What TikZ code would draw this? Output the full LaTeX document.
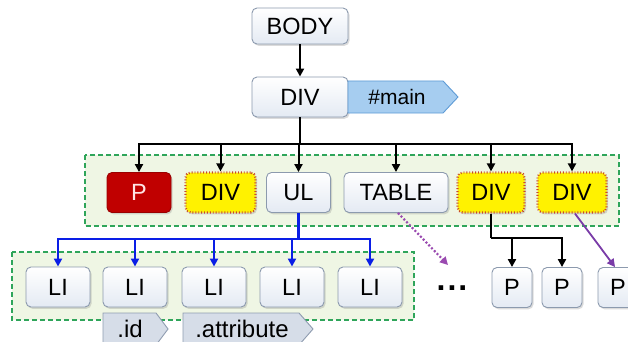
\documentclass[tikz,border=0pt]{standalone}
\usepackage{fontspec}
\setmainfont{Liberation Sans}
\usetikzlibrary{arrows.meta,shadows}

\definecolor{boxedge}{HTML}{8C9AAE}
\definecolor{boxtop}{HTML}{FFFFFF}
\definecolor{boxbot}{HTML}{E4EAF3}
\definecolor{groupedge}{HTML}{2FA55A}
\definecolor{groupfill}{HTML}{EFF6E4}
\definecolor{pred}{HTML}{C00000}
\definecolor{pink}{HTML}{FFE4E4}
\definecolor{dotedge}{HTML}{C8482A}
\definecolor{tagblue}{HTML}{A6CDF0}
\definecolor{tagblueedge}{HTML}{5E9BD6}
\definecolor{taggray}{HTML}{D6DDE8}
\definecolor{taggrayedge}{HTML}{8F9CB0}
\definecolor{linkblue}{HTML}{0A1EE6}
\definecolor{linkpurple}{HTML}{7A3CA8}
\definecolor{dotpurple}{HTML}{9A4AB0}

\newcommand\nodefont{\fontsize{23.5}{26}\selectfont}
\newcommand\tagfont{\fontsize{21}{24}\selectfont}
\newcommand\lowtagfont{\fontsize{24}{27}\selectfont}

\tikzset{
  elem/.style={rounded corners=5pt, line width=0.9pt, minimum height=40pt,
    inner sep=0pt, font=\nodefont, text=black,
    drop shadow={opacity=0.28, shadow xshift=1.5pt, shadow yshift=-1.8pt}},
  plainbox/.style={elem, draw=boxedge, top color=boxtop, bottom color=boxbot},
  redbox/.style={elem, draw=pred!80!black, fill=pred, text=pink},
  yelbox/.style={elem, draw=dotedge, fill=yellow, dotted, line width=2.2pt},
  group/.style={draw=groupedge, fill=groupfill, dashed,
    dash pattern=on 5pt off 3pt, line width=1.6pt},
  tree/.style={-{Triangle[length=8pt,width=8pt]}, line width=2pt},
  link/.style={line width=2pt},
  bluetree/.style={tree, draw=linkblue, line width=2.4pt},
}

\begin{document}
\begin{tikzpicture}[x=1pt,y=-1pt]
\clip (0,0) rectangle (628,342);
\fill[white] (0,0) rectangle (628,342);

% dashed group frames
\path[group] (85,155) rectangle (619,226);
\path[group] (12,252) rectangle (414,320);

% top of the tree
\node[plainbox, minimum width=96pt, minimum height=36pt] (body) at (300,26) {BODY};
\node[plainbox, minimum width=96pt] (div) at (300,97) {DIV};

% #main label
\path[draw=tagblueedge, fill=tagblue, line width=0.9pt]
  (348,81) -- (443,81) -- (458,97) -- (443,113) -- (348,113) -- cycle;
\node[font=\tagfont] (mainlbl) at (397,97) {\#main};

% first level
\node[redbox, minimum width=64pt] (p) at (139,192.5) {P};
\node[yelbox, minimum width=70pt] (ydiv1) at (220.5,192.5) {DIV};
\node[plainbox, minimum width=64pt] (ul) at (298.5,192.5) {UL};
\node[plainbox, minimum width=104pt] (table) at (396,192.5) {TABLE};
\node[yelbox, minimum width=67pt] (ydiv2) at (491,192.5) {DIV};
\node[yelbox, minimum width=69pt] (ydiv3) at (572,192.5) {DIV};

% list items
\node[plainbox, minimum width=64pt] (li1) at (58,287) {LI};
\node[plainbox, minimum width=64pt] (li2) at (135,287) {LI};
\node[plainbox, minimum width=64pt] (li3) at (214,287) {LI};
\node[plainbox, minimum width=64pt] (li4) at (292,287) {LI};
\node[plainbox, minimum width=64pt] (li5) at (370,287) {LI};

% paragraphs
\node[plainbox, minimum width=40pt] (pa) at (512,287.5) {P};
\node[plainbox, minimum width=40pt] (pb) at (562,287.5) {P};
\node[plainbox, minimum width=40pt] (pc) at (618,287.5) {P};

% ellipsis
\node[font=\fontsize{32}{32}\selectfont\bfseries, inner sep=0pt] (more) at (452,288) {.\kern2pt.\kern2pt.};
\coordinate (moretop) at (448,265);

% lower labels
\path[draw=taggrayedge, fill=taggray, line width=0.9pt]
  (103,313) -- (156,313) -- (168,329) -- (156,345) -- (103,345) -- cycle;
\node[font=\lowtagfont] (idlbl) at (130,329) {.id};
\path[draw=taggrayedge, fill=taggray, line width=0.9pt]
  (183,313) -- (299,313) -- (313,329) -- (299,345) -- (183,345) -- cycle;
\node[font=\lowtagfont] (attrlbl) at (242,329) {.attribute};

% connectors
\draw[tree] (body) -- (div);
\coordinate (bar) at (300,144);
\draw[link] (div) -- (bar);
\foreach \n in {p,ydiv1,ul,table,ydiv2,ydiv3}
  \draw[tree] (bar) -| (\n.north);

\coordinate (ulbar) at (298.5,239);
\draw[link, draw=linkblue, line width=2.4pt] (ul) -- (ulbar);
\foreach \n in {li1,li2,li3,li4,li5}
  \draw[bluetree] (ulbar) -| (\n.north);

\coordinate (pbar) at (491,238);
\draw[link] (ydiv2) -- (pbar);
\draw[tree] (pbar) -| (pa.north);
\draw[tree] (pbar) -| (pb.north);

\draw[tree, draw=linkpurple, line width=1.8pt] (ydiv3.south -| 575,0) -- (pc.north -| 615,0);
\draw[tree, draw=dotpurple, dotted, line width=2.2pt] (table.south -| 398,0) -- (moretop);
\end{tikzpicture}
\end{document}
